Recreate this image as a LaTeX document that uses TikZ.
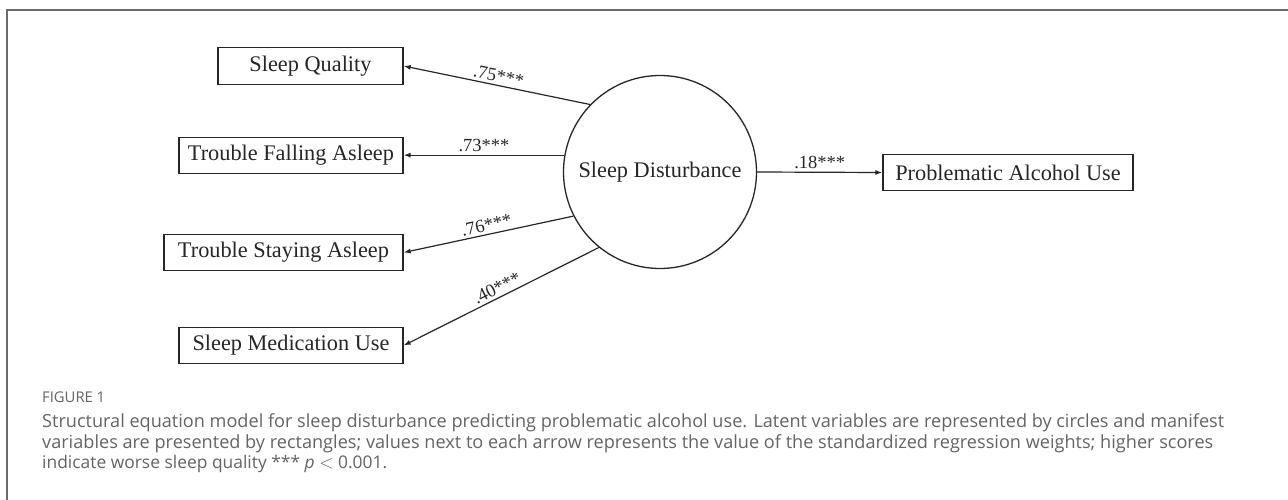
\documentclass[tikz,border=0pt]{standalone}
\usepackage{graphicx}
\usepackage{fontspec}
\setmainfont{Liberation Serif}
\newfontfamily\capfont{Open Sans}
\usetikzlibrary{arrows.meta}
\definecolor{ink}{HTML}{262626}
\definecolor{capgray}{HTML}{646464}
\definecolor{framegray}{HTML}{6A6A6A}
\tikzset{
  varbox/.style={draw=ink, line width=1.3pt, rectangle, inner sep=0pt, minimum height=36.5pt, font=\fontsize{22.3}{24}\selectfont, text=ink},
  latent/.style={draw=ink, line width=1.3pt, circle, inner sep=0pt, minimum size=193pt, font=\fontsize{22.3}{24}\selectfont, text=ink},
  path/.style={draw=ink, line width=1.2pt, -{Latex[length=7pt,width=5pt]}},
  wlabel/.style={midway, above, sloped, inner sep=2.5pt, font=\fontsize{18.5}{20}\selectfont, text=ink},
  captext/.style={anchor=base west, inner sep=0pt, text=capgray, font=\capfont\fontsize{16}{18}\selectfont},
}
\begin{document}
\begin{tikzpicture}[x=1pt, y=-1pt]
\useasboundingbox (0,0) rectangle (1288,500);
\fill[white] (0,0) rectangle (1288,500);
\draw[framegray, line width=1.4pt] (7,500) -- (7,10) -- (1288,10);

\node[latent] (SD) at (660,172) {Sleep Disturbance};
\node[varbox, minimum width=185pt] (SQ) at (310.5,66) {Sleep Quality};
\node[varbox, minimum width=224pt] (TFA) at (291,155.5) {Trouble Falling Asleep};
\node[varbox, minimum width=239pt] (TSA) at (283.5,252.5) {Trouble Staying Asleep};
\node[varbox, minimum width=224pt] (SMU) at (291,345.5) {Sleep Medication Use};
\node[varbox, minimum width=250pt] (PAU) at (1008,172.5) {Problematic Alcohol Use};

\draw[path] (SD.136) -- node[wlabel] {.75***} (SQ.east);
\draw[path] (SD.170) -- node[wlabel] {.73***} (TFA.east |- SD.170);
\draw[path] (SD.207) -- node[wlabel] {.76***} (TSA.east);
\draw[path] (SD.231) -- node[wlabel] {.40***} (SMU.east);
\draw[path] (SD.east) -- node[wlabel] {.18***} (PAU.west);

\node[captext] (fig) at (42,402) {\resizebox{63pt}{!}{FIGURE 1}};
\node[captext] (cap1) at (42,427) {\resizebox{1182pt}{!}{Structural equation model for sleep disturbance predicting problematic alcohol use. Latent variables are represented by circles and manifest}};
\node[captext] (cap2) at (42,448) {\resizebox{1171pt}{!}{variables are presented by rectangles; values next to each arrow represents the value of the standardized regression weights; higher scores}};
\node[captext] (cap3) at (42,468.5) {\resizebox{345pt}{!}{indicate worse sleep quality *** {\itshape p} $<$ 0.001.}};
\end{tikzpicture}
\end{document}
